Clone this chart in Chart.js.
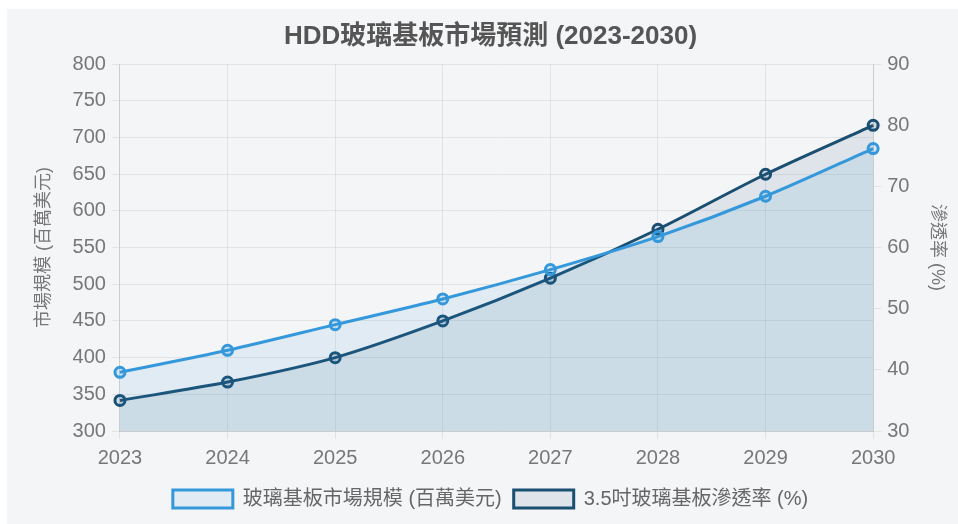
<!DOCTYPE html>
<html>
<head>
<meta charset="utf-8">
<script src="https://cdn.jsdelivr.net/npm/chart.js@4/dist/chart.umd.min.js"></script>
<style>
  html, body { margin: 0; padding: 0; background: #ffffff; }
  #wrap { position: absolute; left: 7px; top: 9px; width: 951px; height: 515px; background: #f4f5f7; }
  canvas { display: block; }
</style>
</head>
<body>
<div id="wrap"><canvas id="c" width="951" height="515"></canvas></div>
<script>
const years = ['2023', '2024', '2025', '2026', '2027', '2028', '2029', '2030'];
const marketSize = [380, 410, 445, 480, 520, 565, 620, 685];
const penetration = [35, 38, 42, 48, 55, 63, 72, 80];
const titleText = 'HDD玻璃基板市場預測 (2023-2030)';
const seriesNames = ['玻璃基板市場規模 (百萬美元)', '3.5吋玻璃基板滲透率 (%)'];
const leftAxisTitle = '市場規模 (百萬美元)';
const rightAxisTitle = '滲透率 (%)';

const FONT = '"Liberation Sans", Arial, "Noto Sans CJK TC", sans-serif';
Chart.defaults.font.family = FONT;
Chart.defaults.color = '#666';

new Chart(document.getElementById('c'), {
  type: 'line',
  data: {
    labels: years,
    datasets: [
      {
        label: seriesNames[0],
        data: marketSize,
        yAxisID: 'y',
        borderColor: '#3498db',
        backgroundColor: 'rgba(52,152,219,0.1)',
        pointBackgroundColor: 'rgba(52,152,219,0.15)',
        pointBorderColor: '#3498db',
        borderWidth: 3,
        pointRadius: 5,
        pointBorderWidth: 3,
        tension: 0.3,
        fill: 'origin'
      },
      {
        label: seriesNames[1],
        data: penetration,
        yAxisID: 'y1',
        borderColor: '#1a4f72',
        backgroundColor: 'rgba(26,82,118,0.1)',
        pointBackgroundColor: 'rgba(26,82,118,0.15)',
        pointBorderColor: '#1a4f72',
        borderWidth: 3,
        pointRadius: 5,
        pointBorderWidth: 3,
        tension: 0.3,
        fill: 'origin'
      }
    ]
  },
  options: {
    responsive: false,
    animation: false,
    layout: { padding: { left: 22, right: 6, top: 0, bottom: 5 } },
    plugins: {
      title: {
        display: true,
        text: titleText,
        color: '#555',
        font: { size: 26, weight: 'bold', family: FONT },
        padding: { top: 12, bottom: 12 }
      },
      legend: {
        position: 'bottom',
        labels: {
          boxWidth: 60,
          boxHeight: 18,
          font: { size: 20, family: FONT },
          color: '#666',
          padding: 12
        }
      },
      tooltip: { enabled: false }
    },
    scales: {
      x: {
        grid: { color: 'rgba(0,0,0,0.07)', tickLength: 8 },
        ticks: { font: { size: 20 }, color: '#777', padding: 7 }
      },
      y: {
        position: 'left',
        min: 300,
        max: 800,
        ticks: { stepSize: 50, font: { size: 20 }, color: '#777', padding: 6 },
        grid: { color: 'rgba(0,0,0,0.07)', tickLength: 8 },
        title: { display: true, text: leftAxisTitle, font: { size: 18 }, color: '#777', padding: { top: 4, bottom: 12 } }
      },
      y1: {
        position: 'right',
        min: 30,
        max: 90,
        ticks: { stepSize: 10, font: { size: 20 }, color: '#777', padding: 6 },
        grid: { drawOnChartArea: false, color: 'rgba(0,0,0,0.07)', tickLength: 8 },
        title: { display: true, text: rightAxisTitle, font: { size: 18 }, color: '#777', padding: { top: 4, bottom: 11 } }
      }
    }
  }
});
</script>
</body>
</html>
